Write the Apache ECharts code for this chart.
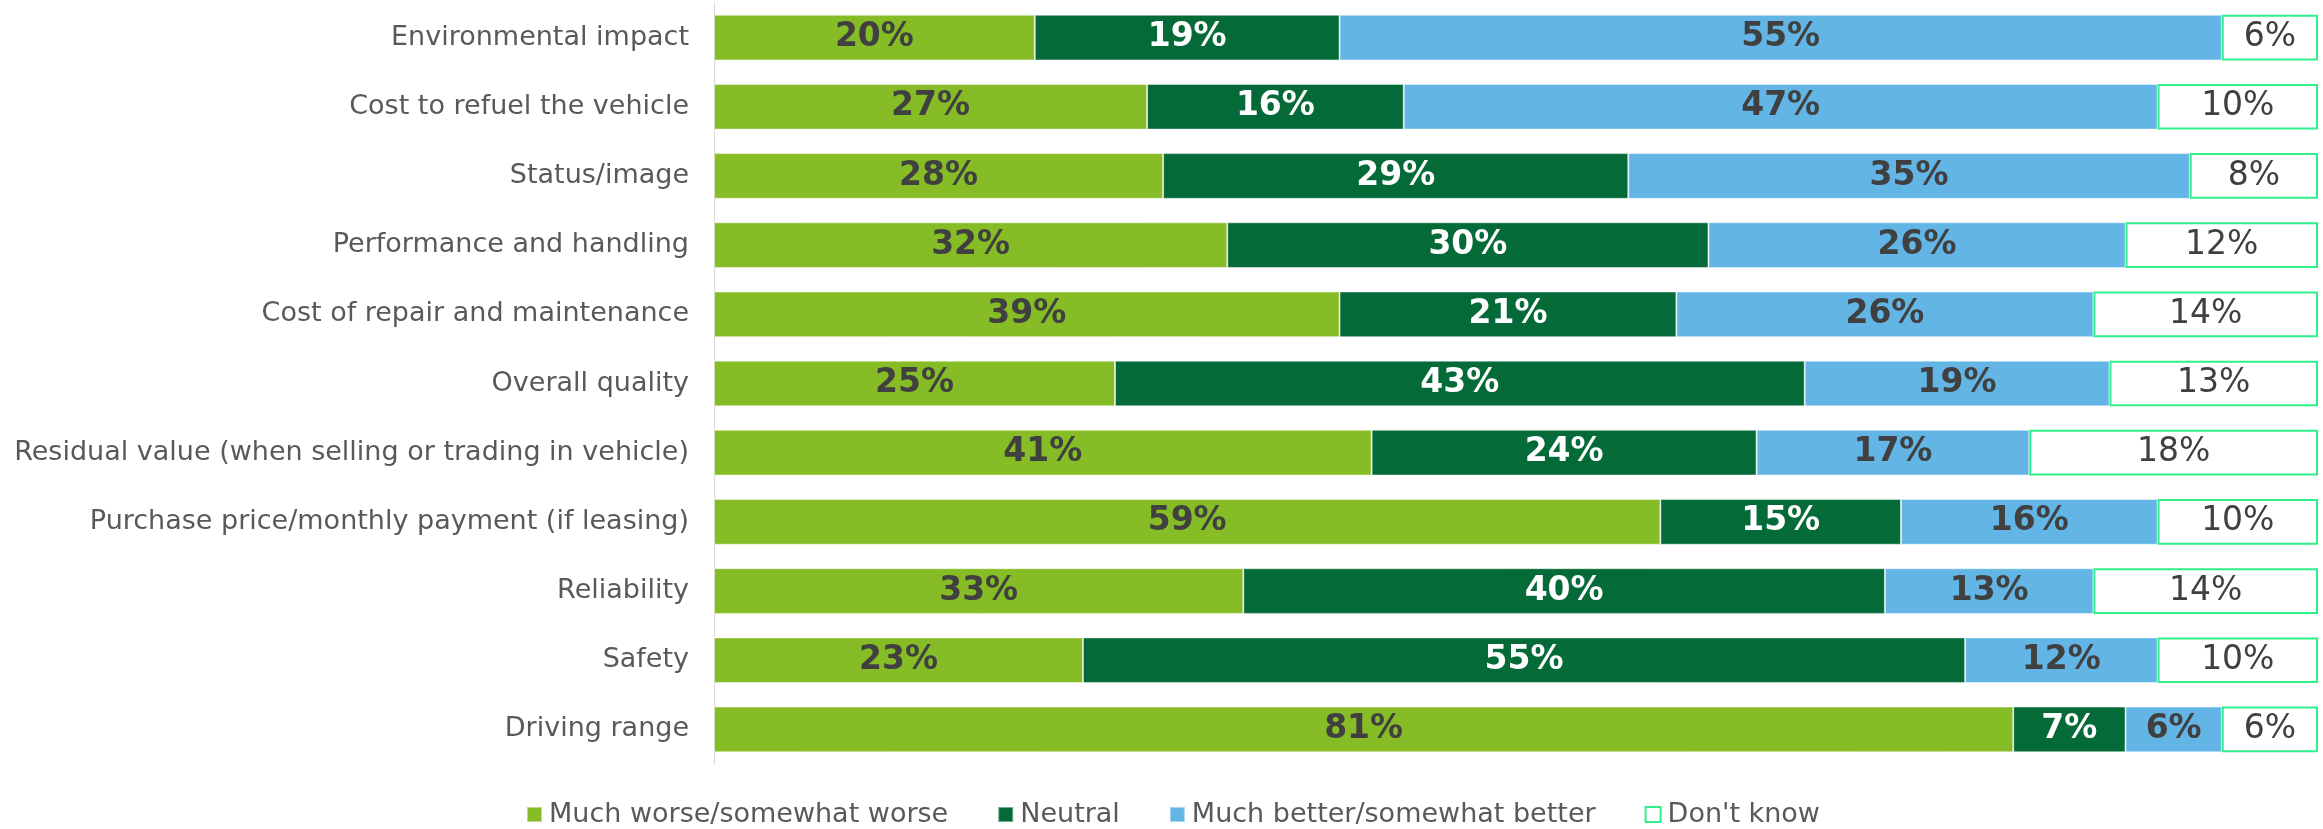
<!DOCTYPE html>
<html>
<head>
<meta charset="utf-8">
<style>
  html, body { margin: 0; padding: 0; background: #ffffff; }
  #chart { width: 2323px; height: 829px; }
</style>
<script src="https://cdn.jsdelivr.net/npm/echarts@6/dist/echarts.min.js"></script>
</head>
<body>
<div id="chart"></div>
<script>
// Attributes, listed top to bottom
const categories = [
  'Environmental impact',
  'Cost to refuel the vehicle',
  'Status/image',
  'Performance and handling',
  'Cost of repair and maintenance',
  'Overall quality',
  'Residual value (when selling or trading in vehicle)',
  'Purchase price/monthly payment (if leasing)',
  'Reliability',
  'Safety',
  'Driving range'
];

// Share of respondents (%) per answer
const worse   = [20, 27, 28, 32, 39, 25, 41, 59, 33, 23, 81];
const neutral = [19, 16, 29, 30, 21, 43, 24, 15, 40, 55, 7];
const better  = [55, 47, 35, 26, 26, 19, 17, 16, 13, 12, 6];
const dontKnow = [6, 10, 8, 12, 14, 13, 18, 10, 14, 10, 6];

const seriesNames = [
  'Much worse/somewhat worse',
  'Neutral',
  'Much better/somewhat better',
  "Don't know"
];

const FONT = '"DejaVu Sans", Verdana, sans-serif';
const TEXT_DARK = '#404040';
const MINT = '#2EF08A';

function bar(name, data, fill, labelColor, bold, border) {
  return {
    name: name,
    type: 'bar',
    stack: 'total',
    data: data,
    barCategoryGap: '34%',
    itemStyle: border
      ? { color: '#ffffff', borderColor: MINT, borderWidth: 2 }
      : { color: fill, borderColor: 'rgba(255,255,255,0.45)', borderWidth: 1 },
    label: {
      show: true,
      position: 'inside',
      formatter: '{c}%',
      color: labelColor,
      fontFamily: FONT,
      fontSize: 33,
      fontWeight: bold ? 'bold' : 'normal'
    },
    emphasis: { disabled: true }
  };
}

const chart = echarts.init(document.getElementById('chart'), null, { renderer: 'canvas' });

chart.setOption({
  animation: false,
  backgroundColor: '#ffffff',
  grid: { left: 714, right: 5, top: 3, bottom: 65, containLabel: false },
  legend: {
    bottom: -4,
    left: 521,
    itemWidth: 15,
    itemHeight: 15,
    itemGap: 49,
    icon: 'rect',
    textStyle: { fontFamily: FONT, fontSize: 27, color: '#595959', padding: [0, 0, 0, 2] },
    data: [
      { name: seriesNames[0] },
      { name: seriesNames[1] },
      { name: seriesNames[2] },
      { name: seriesNames[3], itemStyle: { color: '#ffffff', borderColor: MINT, borderWidth: 2 } }
    ]
  },
  xAxis: {
    type: 'value',
    min: 0,
    max: 100,
    show: false
  },
  yAxis: {
    type: 'category',
    inverse: true,
    data: categories,
    axisLine: { show: true, lineStyle: { color: '#d9d9d9', width: 1 } },
    axisTick: { show: false },
    axisLabel: {
      margin: 25,
      fontFamily: FONT,
      fontSize: 27,
      color: '#595959'
    }
  },
  series: [
    bar(seriesNames[0], worse, '#86BC25', TEXT_DARK, true, false),
    bar(seriesNames[1], neutral, '#046A38', '#ffffff', true, false),
    bar(seriesNames[2], better, '#62B5E5', TEXT_DARK, true, false),
    bar(seriesNames[3], dontKnow, '#ffffff', TEXT_DARK, false, true)
  ]
});
</script>
</body>
</html>
